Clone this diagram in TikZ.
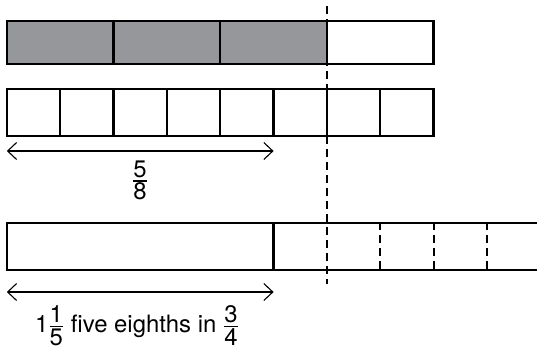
\documentclass[tikz,border=0pt]{standalone}
\usepackage{fontspec}
\setmainfont{TeX Gyre Heros}
\usetikzlibrary{arrows.meta}
\definecolor{barfill}{RGB}{150,151,155}
\newcommand\fr[2]{$\textstyle{\hbox{#1}\above 1.4bp\hbox{#2}}$}
\tikzset{
  barline/.style={line width=2.4bp, line join=miter},
  shaded/.style={fill=barfill},
  cutline/.style={line width=2bp, dash pattern=on 8bp off 5bp},
  partline/.style={line width=2bp, dash pattern=on 8bp off 5bp, dash phase=1bp},
  span/.style={line width=1.1bp, {Straight Barb[length=9bp,width=17bp]}-{Straight Barb[length=9bp,width=17bp]}},
  lbl/.style={inner sep=0pt, font=\fontsize{24}{28}\selectfont}
}
\begin{document}
\begin{tikzpicture}[x=1bp,y=-1bp]
\useasboundingbox (0,0) rectangle (537,349);
% bar 1: quarters, three shaded
\fill[shaded] (6.8,21) rectangle (326.9,64);
\foreach \i in {1,2,3} \draw[barline] ({6.8+106.7*\i},21) -- ({6.8+106.7*\i},64);
\draw[barline] (6.8,21) rectangle (433.6,64);
% bar 2: eighths
\foreach \i in {1,...,7} \draw[barline] ({6.8+53.35*\i},89) -- ({6.8+53.35*\i},136);
\draw[barline] (6.8,89) rectangle (433.6,136);
% bar 3: open on the right
\draw[barline] (537,223) -- (6.8,223) -- (6.8,270) -- (537,270);
\draw[barline] (273.6,223) -- (273.6,270);
\foreach \x in {380.2,433.6,487} \draw[partline] (\x,223) -- (\x,270);
% long dashed cut line
\coordinate (cutTop) at (326.9,6);
\coordinate (cutBot) at (326.9,284);
\draw[cutline] (cutTop) -- (cutBot);
% arrows
\coordinate (a1L) at (6.8,151);
\coordinate (a1R) at (273.6,151);
\draw[span] (a1L) -- (a1R);
\coordinate (a2L) at (6.8,292);
\coordinate (a2R) at (273.6,292);
\draw[span] (a2L) -- (a2R);
% labels
\node[lbl, anchor=base] (fiveEighths) at (140,187) {\fr{5}{8}};
\node[lbl, anchor=base west] (answer) at (35,332.5) {1\fr{1}{5} five eighths in \fr{3}{4}};
\end{tikzpicture}
\end{document}
